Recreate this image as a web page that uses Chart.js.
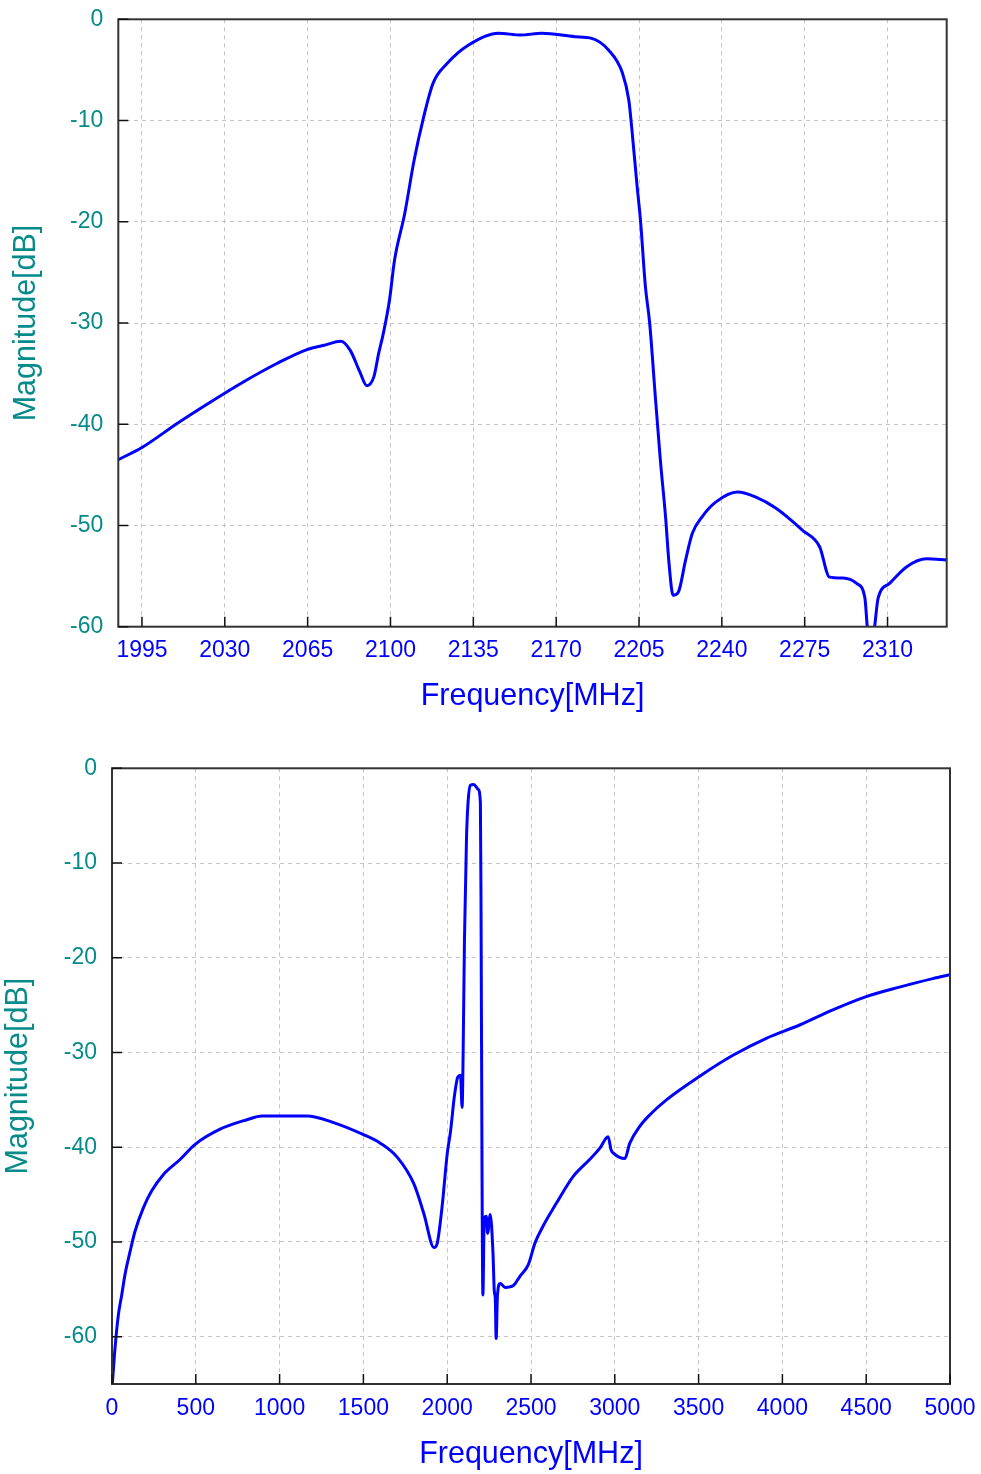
<!DOCTYPE html>
<html>
<head>
<meta charset="utf-8">
<script src="https://cdn.jsdelivr.net/npm/chart.js@4/dist/chart.umd.min.js"></script>
<style>
  html, body { margin: 0; padding: 0; background: #fff; }
  #wrap { position: relative; width: 981px; height: 1474px; }
  .box { position: absolute; left: 0; width: 981px; }
</style>
</head>
<body>
<div id="wrap">
  <div class="box" style="top:0;height:722px"><canvas id="top" width="981" height="722"></canvas></div>
  <div class="box" style="top:740px;height:734px"><canvas id="bottom" width="981" height="734"></canvas></div>
</div>
<script>
// zoomed passband, MHz / dB
const freqZoom = [1985, 1995, 2010, 2024, 2038, 2052, 2065, 2072, 2079, 2083, 2087, 2090, 2093, 2095,
  2097, 2099.6, 2101.7, 2106, 2110, 2113.7, 2118, 2124, 2133, 2145.5, 2155, 2164, 2178, 2185, 2192,
  2198, 2200.7, 2202, 2204.2, 2205.6, 2207.7, 2209.5, 2212, 2214, 2216.2, 2217.7, 2219.4, 2221.6,
  2224.7, 2227.5, 2231.8, 2237.4, 2246.6, 2254.4, 2262.9, 2274.2, 2281.3, 2285.5, 2291.2, 2296.8,
  2300.4, 2301.8, 2304, 2306, 2311, 2318, 2326.5, 2335];
const magZoom = [-43.5, -42.3, -39.9, -37.8, -35.8, -34.0, -32.6, -32.2, -31.8, -32.7, -34.8, -36.2, -35.3, -33.0,
  -31.0, -27.7, -23.8, -19.2, -13.9, -9.95, -6.3, -4.35, -2.54, -1.38, -1.55, -1.38, -1.72, -1.88, -3.0,
  -5.3, -8.0, -10.9, -16.5, -19.8, -26.4, -30.0, -37.6, -43.5, -49.1, -53.8, -56.9, -56.6,
  -53.4, -50.8, -49.1, -47.7, -46.7, -47.2, -48.3, -50.5, -52.1, -55.1, -55.2, -55.7,
  -57.1, -60.5, -60.5, -57.2, -55.7, -54.1, -53.3, -53.4];

// wideband sweep, MHz / dB
const freqWide = [0, 18, 38, 58, 78, 108, 137, 187, 237, 306, 406, 496, 645, 805, 894, 1163, 1322, 1491,
  1603, 1704, 1802, 1862, 1921, 1941, 1970, 2000, 2020, 2043, 2063, 2079, 2089, 2095, 2103, 2115, 2123,
  2138, 2158, 2184, 2198, 2202, 2208, 2213, 2221, 2233, 2241, 2257, 2273, 2281, 2287, 2292, 2300, 2316,
  2346, 2395, 2435, 2484, 2524, 2573, 2652, 2751, 2850, 2911, 2960, 2978, 2990, 3060, 3089, 3149, 3208,
  3308, 3507, 3705, 3904, 4103, 4301, 4500, 4698, 4897, 5000];
const magWide = [-65.5, -61.2, -57.7, -55.6, -53.4, -51.0, -48.9, -46.4, -44.6, -42.9, -41.3, -39.7, -38.1, -37.1, -36.7, -36.7, -37.4, -38.6,
  -39.6, -41.1, -43.9, -47.1, -50.6, -50.1, -46.2, -40.7, -38.3, -34.6, -32.6, -32.4, -35.8, -30.2, -18.1, -7.5, -4.0,
  -1.8, -1.7, -2.2, -3.6, -15.3, -43.5, -55.6, -47.5, -47.3, -49.1, -47.1, -51.1, -55.2, -56.0, -60.2, -55.6, -54.4,
  -54.8, -54.6, -53.6, -52.4, -50.1, -48.3, -45.9, -43.1, -41.3, -40.1, -38.9, -40.3, -40.6, -41.2, -39.6, -37.8, -36.6,
  -35.0, -32.5, -30.3, -28.5, -27.1, -25.5, -24.1, -23.1, -22.2, -21.8];

const xTicksZoom = [1995, 2030, 2065, 2100, 2135, 2170, 2205, 2240, 2275, 2310];
const xTicksWide = [0, 500, 1000, 1500, 2000, 2500, 3000, 3500, 4000, 4500, 5000];
const yTicksZoom = [0, -10, -20, -30, -40, -50, -60];
const yTicksWide = [0, -10, -20, -30, -40, -50, -60];

const BLUE = '#0000ff';
const TEAL = '#078a8a';
const FONT = "'Liberation Sans', Arial, sans-serif";

// box round the plot and short inward tick marks
const frame = {
  id: 'frame',
  afterDraw(chart) {
    const { ctx, chartArea: a, scales: { x, y } } = chart;
    ctx.save();
    ctx.strokeStyle = '#333';
    ctx.lineWidth = 2;
    ctx.strokeRect(a.left, a.top, a.right - a.left, a.bottom - a.top);
    ctx.lineWidth = 1.5;
    ctx.strokeStyle = '#111';
    ctx.beginPath();
    x.ticks.forEach(t => {
      const px = x.getPixelForValue(t.value);
      ctx.moveTo(px, a.bottom);
      ctx.lineTo(px, a.bottom - 10);
    });
    y.ticks.forEach(t => {
      const py = y.getPixelForValue(t.value);
      ctx.moveTo(a.left, py);
      ctx.lineTo(a.left + 10, py);
    });
    ctx.stroke();
    ctx.restore();
  }
};

function draw(id, freq, mag, o) {
  new Chart(document.getElementById(id), {
    type: 'line',
    data: {
      datasets: [{
        data: freq.map((f, i) => ({ x: f, y: mag[i] })),
        borderColor: BLUE,
        borderWidth: 3,
        pointRadius: 0,
        cubicInterpolationMode: 'monotone'
      }]
    },
    options: {
      responsive: false,
      animation: false,
      layout: { padding: o.pad },
      plugins: { legend: { display: false }, tooltip: { enabled: false } },
      scales: {
        x: {
          type: 'linear',
          min: o.xmin, max: o.xmax,
          afterBuildTicks: s => { s.ticks = o.xticks.map(v => ({ value: v })); },
          afterFit: s => { s.height = o.xh; s.paddingLeft = 0; s.paddingRight = 0; },
          grid: { color: '#c4c4c4', lineWidth: 1, drawTicks: false },
          border: { display: false, dash: [4, 4] },
          ticks: { color: BLUE, font: { family: FONT, size: 23 }, padding: o.xpad, maxRotation: 0, autoSkip: false,
                   callback: v => String(v) },
          title: { display: true, text: 'Frequency[MHz]', color: BLUE, font: { family: FONT, size: 30.5 }, padding: { top: 0, bottom: o.xtp } }
        },
        y: {
          min: o.ymin, max: 0,
          afterBuildTicks: s => { s.ticks = o.yticks.map(v => ({ value: v })); },
          afterFit: s => { s.width = o.yw; s.paddingTop = 0; s.paddingBottom = 0; },
          grid: { color: '#c4c4c4', lineWidth: 1, drawTicks: false },
          border: { display: false, dash: [4, 4] },
          ticks: { color: TEAL, font: { family: FONT, size: 23 }, padding: 15, callback: v => String(v) },
          title: { display: true, text: 'Magnitude[dB]', color: TEAL, font: { family: FONT, size: 30.5 }, padding: { top: o.ytp, bottom: 0 } }
        }
      }
    },
    plugins: [frame]
  });
}

draw('top', freqZoom, magZoom, {
  xmin: 1985, xmax: 2335, ymin: -60, xticks: xTicksZoom, yticks: yTicksZoom,
  pad: { top: 19.3, right: 34.3, left: 0, bottom: 0 }, xh: 95.3, yw: 118.3, xpad: 10, xtp: 6.7, ytp: 8.2
});
draw('bottom', freqWide, magWide, {
  xmin: 0, xmax: 5000, ymin: -65, xticks: xTicksWide, yticks: yTicksWide,
  pad: { top: 28.3, right: 31, left: 0, bottom: 0 }, xh: 90, yw: 112, xpad: 11, xtp: 0.7, ytp: 0.2
});
</script>
</body>
</html>
